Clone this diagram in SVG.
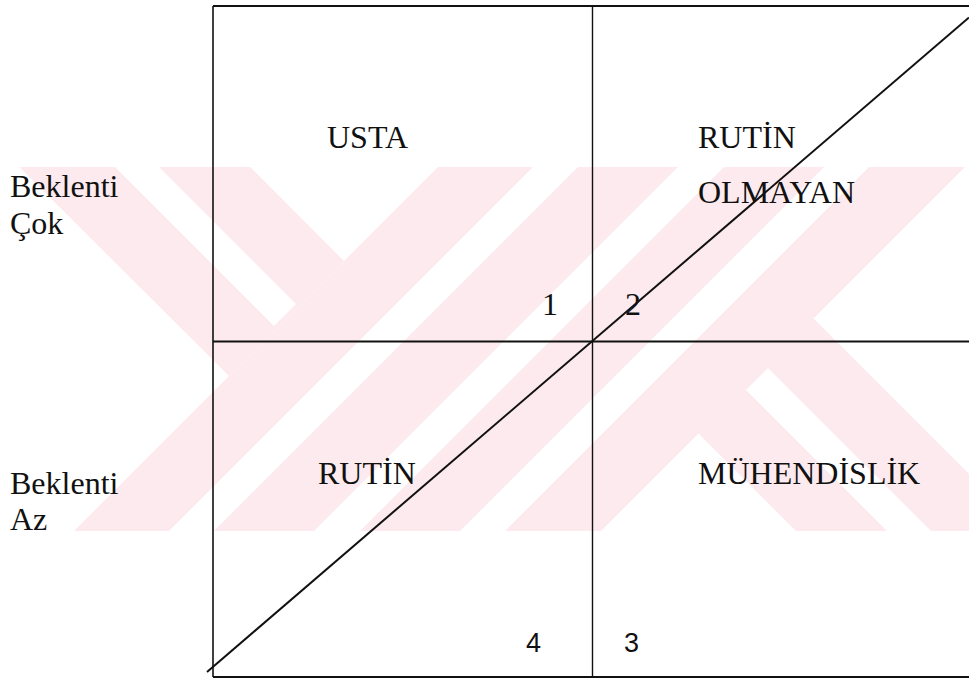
<svg xmlns="http://www.w3.org/2000/svg" width="969" height="679" viewBox="0 0 969 679">
<style>
.t{font-family:"Liberation Serif","Times New Roman",serif;font-size:32px;fill:#111}
.s{font-family:"Liberation Sans",Arial,sans-serif;font-size:27px;fill:#111}
.ln{stroke:#111;fill:none}
.pk{fill:#fdeaee}
.wh{fill:#fff}
</style>
<defs>
<clipPath id="band"><rect x="0" y="167" width="969" height="364"/></clipPath>
</defs>
<rect width="969" height="679" fill="#fff"/>
<g id="watermark" clip-path="url(#band)">
<polygon class="pk" points="344,261 229,376 -74,74 42,-42"/>
<polygon class="pk" points="-48,653 803,-198 1066,66 216,916"/>
<polygon class="pk" points="698,433 813,318 1248,753 1133,868"/>
<polygon class="wh" points="296,304 274,326 -26,26 -4,4"/>
<polygon class="wh" points="768,368 746,390 1178,822 1200,800"/>
<polygon class="wh" points="700,0 745,0 45,700 0,700"/>
<polygon class="wh" points="845,0 891,0 191,700 145,700"/>
<polygon class="wh" points="991,0 1036,0 336,700 291,700"/>
</g>
<g id="grid">
<line class="ln" x1="213" y1="6" x2="969" y2="6" stroke-width="2"/>
<line class="ln" x1="213" y1="677" x2="969" y2="677" stroke-width="2"/>
<line class="ln" x1="213" y1="6" x2="213" y2="677" stroke-width="1.6"/>
<line class="ln" x1="592.5" y1="6" x2="592.5" y2="677" stroke-width="1.4"/>
<line class="ln" x1="213" y1="341.5" x2="969" y2="341.5" stroke-width="2"/>
</g>
<g id="connectors">
<line class="ln" x1="207" y1="672" x2="969" y2="17.5" stroke-width="2"/>
</g>
<g id="axis-high"><text class="t" x="10" y="197">Beklenti</text><text class="t" x="10" y="234">Çok</text></g>
<g id="axis-low"><text class="t" x="10" y="494">Beklenti</text><text class="t" x="10" y="530">Az</text></g>
<g id="q1"><text class="t" x="327" y="148">USTA</text><text class="t" x="542" y="315">1</text></g>
<g id="q2"><text class="t" x="698" y="148">RUTİN</text><text class="t" x="698" y="203">OLMAYAN</text><text class="t" x="625" y="315">2</text></g>
<g id="q4"><text class="t" x="318" y="484">RUTİN</text><text class="s" x="526" y="652">4</text></g>
<g id="q3"><text class="t" x="698" y="484">MÜHENDİSLİK</text><text class="s" x="624" y="652">3</text></g>
</svg>
